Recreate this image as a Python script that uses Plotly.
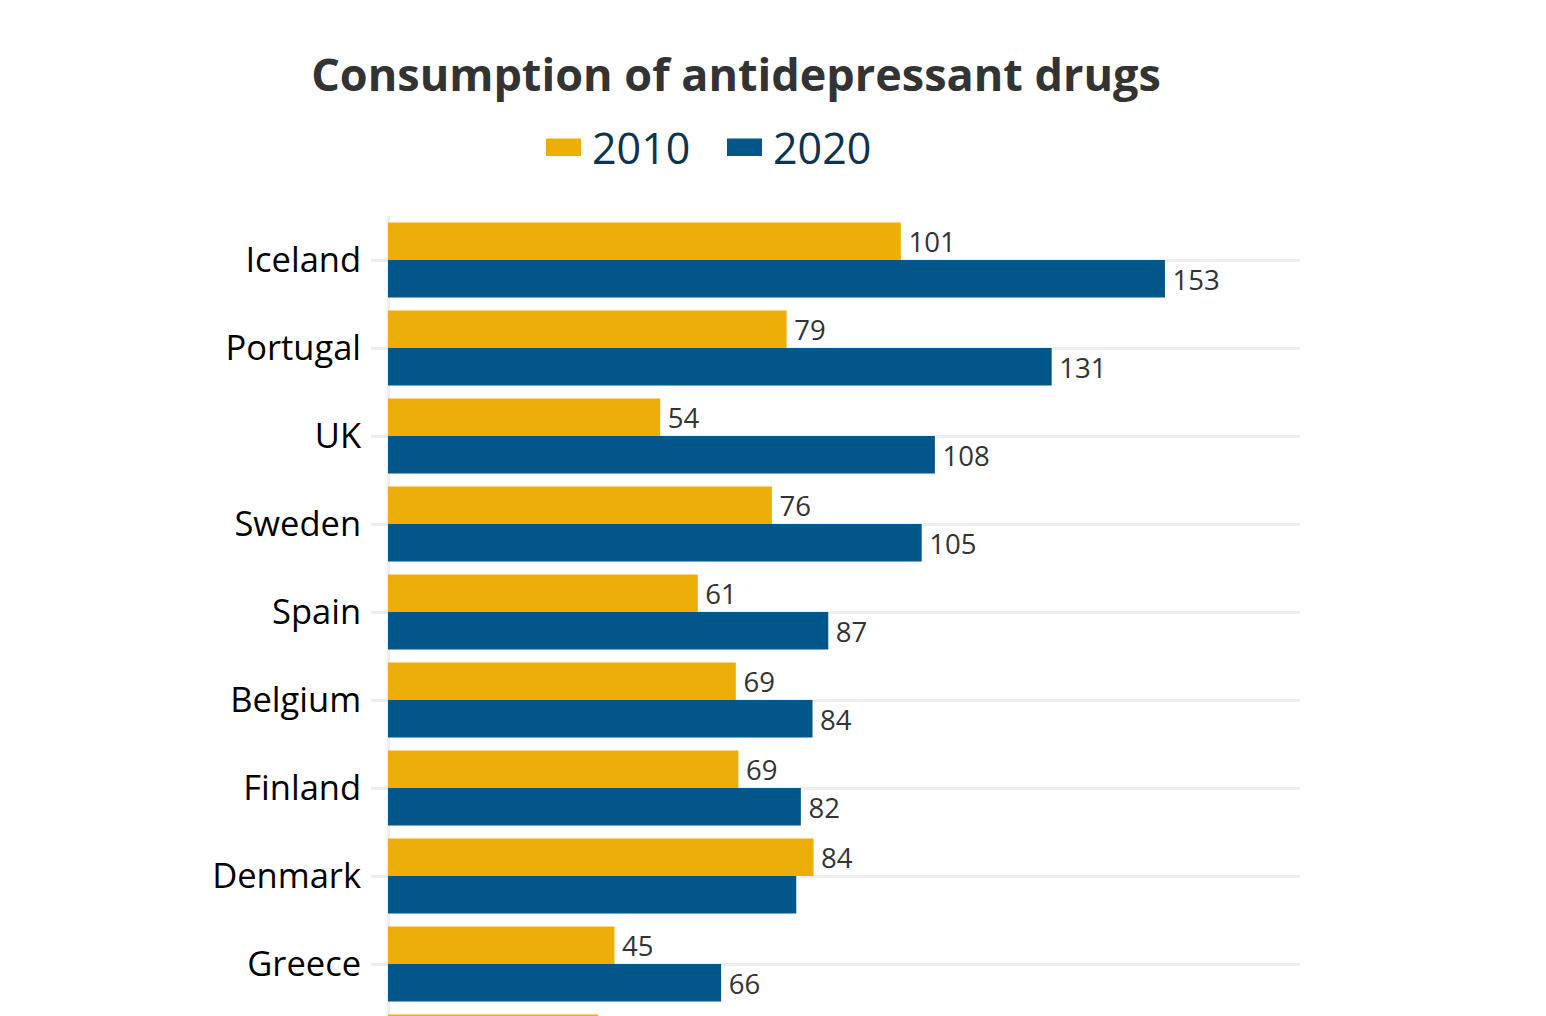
import plotly.graph_objects as go

countries = ["Iceland", "Portugal", "UK", "Sweden", "Spain", "Belgium",
             "Finland", "Denmark", "Greece", "Norway"]
values_2010 = [101.0, 78.5, 53.6, 75.6, 61.0, 68.5, 69.0, 83.8, 44.6, 41.4]
values_2020 = [153.0, 130.7, 107.7, 105.1, 86.7, 83.6, 81.3, 80.4, 65.6, 60.0]
labels_2010 = ["101", "79", "54", "76", "61", "69", "69", "84", "45", "41"]
labels_2020 = ["153", "131", "108", "105", "87", "84", "82", "", "66", "60"]
series_names = ["2010", "2020"]
series_colors = ["#EDAE08", "#03568A"]

W, H = 1546, 1181
L, R, T, B = 388, 246, 216, 85
PW, PH = W - L - R, H - T - B


def px_x(p):
    return (p - L) / PW


def px_y(p):
    return (H - B - p) / PH


fig = go.Figure()
for name, vals, labs, col in [(series_names[0], values_2010, labels_2010, series_colors[0]),
                              (series_names[1], values_2020, labels_2020, series_colors[1])]:
    fig.add_trace(go.Bar(
        y=countries, x=vals, name=name, orientation="h",
        marker=dict(color=col, line=dict(width=0)),
        text=["\u2009" + t if t else "" for t in labs],
        textposition="outside", cliponaxis=False,
        textfont=dict(family="Open Sans", size=28, color="#333333"),
        showlegend=False,
    ))

# legend drawn as swatches + text
swatch_px = [(546, 581), (727, 762)]
text_px = [591, 772]
for (sx0, sx1), tx, name, col in zip(swatch_px, text_px, series_names, series_colors):
    fig.add_shape(type="rect", xref="paper", yref="paper",
                  x0=px_x(sx0), x1=px_x(sx1), y0=px_y(156), y1=px_y(138.5),
                  fillcolor=col, line=dict(width=0))
    fig.add_annotation(text=name, xref="paper", yref="paper",
                       x=px_x(tx), y=px_y(148), xanchor="left", yanchor="middle",
                       showarrow=False, borderpad=0,
                       font=dict(family="Open Sans", size=43, color="#0D3350"))

fig.update_layout(
    width=W, height=H,
    margin=dict(l=L, r=R, t=T, b=B),
    paper_bgcolor="white", plot_bgcolor="white",
    barmode="group", bargap=0.15, bargroupgap=0,
    title=dict(text="<b>Consumption of antidepressant drugs</b>",
               x=736 / W, xanchor="center", y=1 - 75 / H, yanchor="middle",
               font=dict(family="Open Sans", size=45, color="#333333")),
    showlegend=False,
    font=dict(family="Open Sans"),
)
fig.update_xaxes(range=[0, 179.6], showgrid=False, zeroline=True,
                 zerolinecolor="#EEEEEE", zerolinewidth=3,
                 showticklabels=False, ticks="")
fig.update_yaxes(categoryorder="array", categoryarray=countries,
                 autorange="reversed", showgrid=True, gridcolor="#EEEEEE",
                 gridwidth=3, ticks="outside", ticklen=16, tickcolor="#EEEEEE",
                 tickwidth=3, ticklabelstandoff=3,
                 tickfont=dict(family="Open Sans", size=34.5, color="#000000"))

fig.write_html("out.html")
